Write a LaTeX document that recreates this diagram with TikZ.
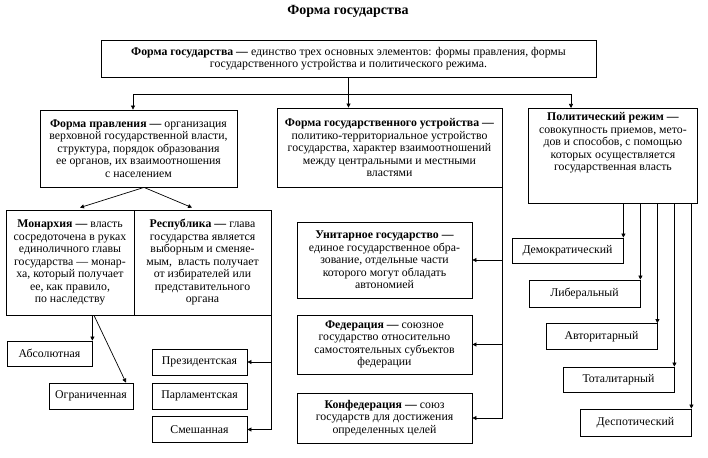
\documentclass[tikz,border=0pt]{standalone}
\usepackage{fontspec}
\setmainfont{Liberation Serif}
\usetikzlibrary{positioning,arrows.meta}
\newcommand{\boxfont}{\fontsize{11.8}{12.5}\selectfont}

\begin{document}
\begin{tikzpicture}[x=1pt, y=-1pt, node distance=43pt]
    \tikzstyle{block} = [rectangle, draw, line width=0.8pt, align=center,
        inner sep=1pt, font=\boxfont]
    \tikzstyle{arrow} = [line width=0.7pt, -{Triangle[length=4pt,width=4pt]}]
    \tikzstyle{line} = [line width=0.7pt]

    \useasboundingbox (0,0) rectangle (708,457);

    \node [font=\fontsize{14}{16}\selectfont\bfseries] (title) at (348,11) {Форма государства};
    \node [block, minimum width=495, minimum height=37] (top) at (348.5,58.5)
        {\textbf{Форма государства —} единство трех основных элементов: формы правления, формы\\
         государственного устройства и политического режима.};

    % second row
    \node [block, minimum width=197, minimum height=77] (gov) at (138.5,148.5)
        {\textbf{Форма правления —} организация\\верховной государственной власти,\\
         структура, порядок образования\\ее органов, их взаимоотношения\\с населением};
    \node [block, minimum width=225, minimum height=79] (struct) at (389.5,147.5)
        {\textbf{Форма государственного устройства —}\\политико-территориальное устройство\\
         государства, характер взаимоотношений\\между центральными и местными\\властями};
    \node [block, inner sep=0pt, anchor=north west] (regime) at (528,108)
        {\parbox[t][95pt][t]{169pt}{\centering\vspace{4pt}
         \textbf{Политический режим —}\\совокупность приемов, мето-\\дов и способов, с помощью\\
         которых осуществляется\\государственная власть}};

    % form of government
    \node [block, minimum width=128, minimum height=105] (mon) at (70,262.5)
        {\textbf{Монархия —} власть\\сосредоточена в руках\\единоличного главы\\
         государства — монар-\\ха, который получает\\ее, как правило,\\по наследству};
    \node [block, minimum width=137, minimum height=105] (rep) at (202.5,262.5)
        {\textbf{Республика —} глава\\государства является\\выборным и сменяе-\\
         мым, \ власть получает\\от избирателей или\\представительного\\органа};
    \node [block, minimum width=85, minimum height=25] (absol) at (49.5,353.5) {Абсолютная};
    \node [block, minimum width=84, minimum height=26] (limited) at (91,396) {Ограниченная};
    \node [block, minimum width=95, minimum height=26] (pres) at (199.5,362) {Президентская};
    \node [block, minimum width=95, minimum height=26, below of=pres, node distance=34pt] (parl) {Парламентская};
    \node [block, minimum width=95, minimum height=26, below of=parl, node distance=33.5pt] (mixed) {Смешанная};

    % form of state structure
    \node [block, minimum width=175, minimum height=76] (unit) at (384.5,260)
        {\textbf{Унитарное государство —}\\единое государственное обра-\\зование, отдельные части\\
         которого могут обладать\\автономией};
    \node [block, minimum width=175, minimum height=59] (fed) at (384.5,344.5)
        {\textbf{Федерация —} союзное\\государство относительно\\самостоятельных субъектов\\федерации};
    \node [block, minimum width=175, minimum height=50] (conf) at (384.5,418)
        {\textbf{Конфедерация —} союз\\государств для достижения\\определенных целей};

    % political regime
    \node [block, minimum width=111, minimum height=25] (dem) at (567.5,250.5) {Демократический};
    \node [block, minimum width=111, minimum height=27, below of=dem, xshift=17pt] (lib) {Либеральный};
    \node [block, minimum width=111, minimum height=26, below of=lib, xshift=17pt] (auth) {Авторитарный};
    \node [block, minimum width=111, minimum height=25, below of=auth, xshift=17pt] (tot) {Тоталитарный};
    \node [block, minimum width=111, minimum height=27, below of=tot, xshift=17pt] (desp) {Деспотический};

    % connectors
    \coordinate (fork) at (348.5,94);
    \draw [arrow] (top.south) -- (top.south |- struct.north);
    \draw [arrow] (fork) -| ([xshift=-5.5pt]gov.north);
    \draw [arrow] (fork) -| ([xshift=43pt]regime.north west);

    \draw [arrow] ([xshift=5.5pt]gov.south) -- ([xshift=10pt, yshift=2pt]mon.north);
    \draw [arrow] ([xshift=5.5pt]gov.south) -- ([xshift=-10.5pt, yshift=2pt]rep.north);
    \draw [arrow] (mon.south -| absol.north east) -- (absol.north east);
    \draw [arrow] ([xshift=24pt]mon.south) -- ([xshift=35pt]limited.north);
    \draw [arrow] (rep.south east) |- (pres.east);
    \draw [arrow] (rep.south east) |- (mixed.east);

    \foreach \sub in {unit,fed,conf}
        \draw [arrow] (struct.south east) |- (\sub.east);

    \foreach \sub in {dem,lib,auth,tot,desp}
        \draw [arrow] (regime.south -| \sub.north east) -- (\sub.north east);
\end{tikzpicture}
\end{document}
